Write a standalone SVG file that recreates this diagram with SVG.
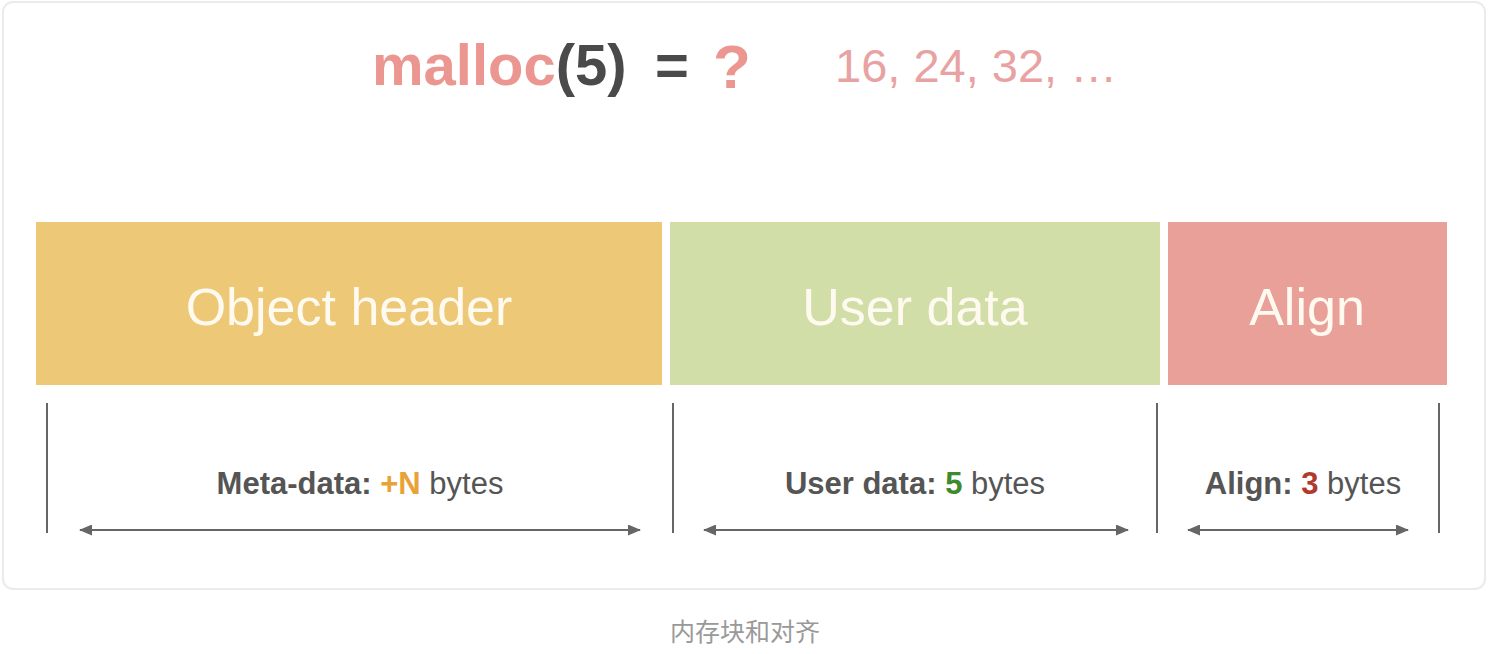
<svg xmlns="http://www.w3.org/2000/svg" width="1488" height="654" viewBox="0 0 1488 654">
<defs>
<style>
.t{font-family:"Liberation Sans",Arial,sans-serif}
.box{font-size:52px;fill:#fffaf0;text-anchor:middle}
.lbl{font-size:31px;fill:#555;text-anchor:middle}
.b{font-weight:bold}
.tick{stroke:#666;stroke-width:2}
.dim{stroke:#666;stroke-width:2;marker-start:url(#ah);marker-end:url(#ah)}
</style>
<marker id="ah" viewBox="0 0 13 11" refX="12" refY="5.5" markerWidth="13" markerHeight="11" markerUnits="userSpaceOnUse" orient="auto-start-reverse">
<path d="M0,0 L13,5.5 L0,11 z" fill="#666"/>
</marker>
</defs>
<rect width="1488" height="654" fill="#fff"/>
<rect x="3" y="2" width="1482" height="587" rx="10" fill="#fff" stroke="#ebebeb" stroke-width="2"/>
<g id="title">
<text class="t b" x="372" y="85" font-size="58"><tspan fill="#eb9690">malloc</tspan><tspan fill="#4a4a4a">(5)</tspan></text>
<text class="t b" x="655" y="85" font-size="58" fill="#4a4a4a">=</text>
<text class="t b" x="713" y="88" font-size="62" fill="#eb9690">?</text>
<text class="t" x="835" y="82" font-size="47" fill="#e9a2a2">16, 24, 32, …</text>
</g>
<g id="object-header">
<rect x="36" y="222" width="626" height="163" fill="#edc876"/>
<text class="t box" x="349" y="325">Object header</text>
</g>
<g id="user-data">
<rect x="670" y="222" width="490" height="163" fill="#d1dea8"/>
<text class="t box" x="915" y="325">User data</text>
</g>
<g id="align">
<rect x="1168" y="222" width="279" height="163" fill="#e8a098"/>
<text class="t box" x="1307" y="325">Align</text>
</g>
<g id="connectors">
<line class="tick" x1="47" y1="403" x2="47" y2="533"/>
<line class="tick" x1="673" y1="403" x2="673" y2="533"/>
<line class="tick" x1="1157" y1="403" x2="1157" y2="533"/>
<line class="tick" x1="1439" y1="403" x2="1439" y2="533"/>
<line class="dim" x1="80" y1="530" x2="640" y2="530"/>
<line class="dim" x1="704" y1="530" x2="1128" y2="530"/>
<line class="dim" x1="1188" y1="530" x2="1408" y2="530"/>
</g>
<g id="labels">
<text class="t lbl" x="360" y="494"><tspan class="b">Meta-data: </tspan><tspan class="b" fill="#e9a235">+N</tspan> bytes</text>
<text class="t lbl" x="915" y="494"><tspan class="b">User data: </tspan><tspan class="b" fill="#3f8a2a">5</tspan> bytes</text>
<text class="t lbl" x="1303" y="494"><tspan class="b">Align: </tspan><tspan class="b" fill="#b03a2e">3</tspan> bytes</text>
</g>
<text x="745" y="641" font-family="'Noto Sans CJK SC',sans-serif" font-size="25" fill="#999" text-anchor="middle">内存块和对齐</text>
</svg>
